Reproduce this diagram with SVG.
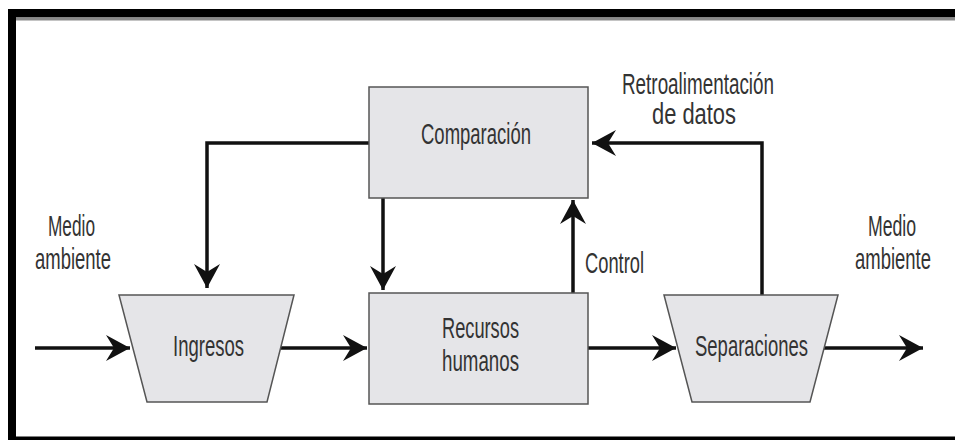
<svg xmlns="http://www.w3.org/2000/svg" width="955" height="440" viewBox="0 0 955 440">
  <style>
    .frame { fill: #000; }
    .box { fill: #e5e5e8; stroke: #555; stroke-width: 1.5; }
    .lbl { font-family: "Liberation Sans", Arial, sans-serif; font-size: 29px; fill: #333; text-anchor: middle; }
    .wire { fill: none; stroke: #111; stroke-width: 3.5; }
  </style>
  <defs>
    <marker id="head" viewBox="-25 -14 26 28" refX="0" refY="0" markerWidth="26" markerHeight="28" markerUnits="userSpaceOnUse" orient="auto">
      <path d="M0,0 L-24,-13 L-16,0 L-24,13 Z" fill="#111"/>
    </marker>
  </defs>

  <rect width="955" height="440" fill="#fff"/>

  <!-- page frame -->
  <g id="frame">
    <rect class="frame" x="8" y="9" width="947" height="8.5"/>
    <rect x="16" y="17.5" width="939" height="3" fill="#8a8a8a"/>
    <rect class="frame" x="8" y="9" width="8" height="431"/>
    <rect class="frame" x="8" y="436.5" width="947" height="3.5"/>
  </g>

  <!-- connectors -->
  <g id="connectors">
    <path class="wire" d="M35,348 H130" marker-end="url(#head)"/>
    <path class="wire" d="M281,348 H367" marker-end="url(#head)"/>
    <path class="wire" d="M588,348 H676" marker-end="url(#head)"/>
    <path class="wire" d="M824,348 H923" marker-end="url(#head)"/>
    <path class="wire" d="M369,143 H207 V288" marker-end="url(#head)"/>
    <path class="wire" d="M383,198 V290" marker-end="url(#head)"/>
    <path class="wire" d="M573,293 V200" marker-end="url(#head)"/>
    <path class="wire" d="M762,295 V143 H592" marker-end="url(#head)"/>
  </g>

  <g id="comparacion">
    <rect class="box" x="369" y="87" width="219" height="111"/>
    <text class="lbl" x="476" y="144" textLength="110" lengthAdjust="spacingAndGlyphs">Comparación</text>
  </g>

  <g id="recursos">
    <rect class="box" x="369" y="293" width="219" height="111"/>
    <text class="lbl" x="480.5" y="338" textLength="77" lengthAdjust="spacingAndGlyphs">Recursos</text>
    <text class="lbl" x="480.5" y="371" textLength="77" lengthAdjust="spacingAndGlyphs">humanos</text>
  </g>

  <g id="ingresos">
    <polygon class="box" points="119,295 294,295 267,402 147,402"/>
    <text class="lbl" x="208.5" y="356" textLength="71" lengthAdjust="spacingAndGlyphs">Ingresos</text>
  </g>

  <g id="separaciones">
    <polygon class="box" points="664,295 838,295 810,402 692,402"/>
    <text class="lbl" x="751.5" y="356" textLength="113" lengthAdjust="spacingAndGlyphs">Separaciones</text>
  </g>

  <g id="labels">
    <text class="lbl" x="71.5" y="236" textLength="47" lengthAdjust="spacingAndGlyphs">Medio</text>
    <text class="lbl" x="73" y="269" textLength="76" lengthAdjust="spacingAndGlyphs">ambiente</text>
    <!-- right-hand environment label, narrowed by a horizontal scale -->
    <text class="lbl" transform="translate(892,236) scale(0.61,1)">Medio</text>
    <text class="lbl" transform="translate(893,269) scale(0.637,1)">ambiente</text>
    <text class="lbl" x="698" y="94" textLength="152" lengthAdjust="spacingAndGlyphs">Retroalimentación</text>
    <text class="lbl" x="694" y="124" textLength="84" lengthAdjust="spacingAndGlyphs">de datos</text>
    <text class="lbl" x="614.5" y="273" textLength="59" lengthAdjust="spacingAndGlyphs">Control</text>
  </g>
</svg>
